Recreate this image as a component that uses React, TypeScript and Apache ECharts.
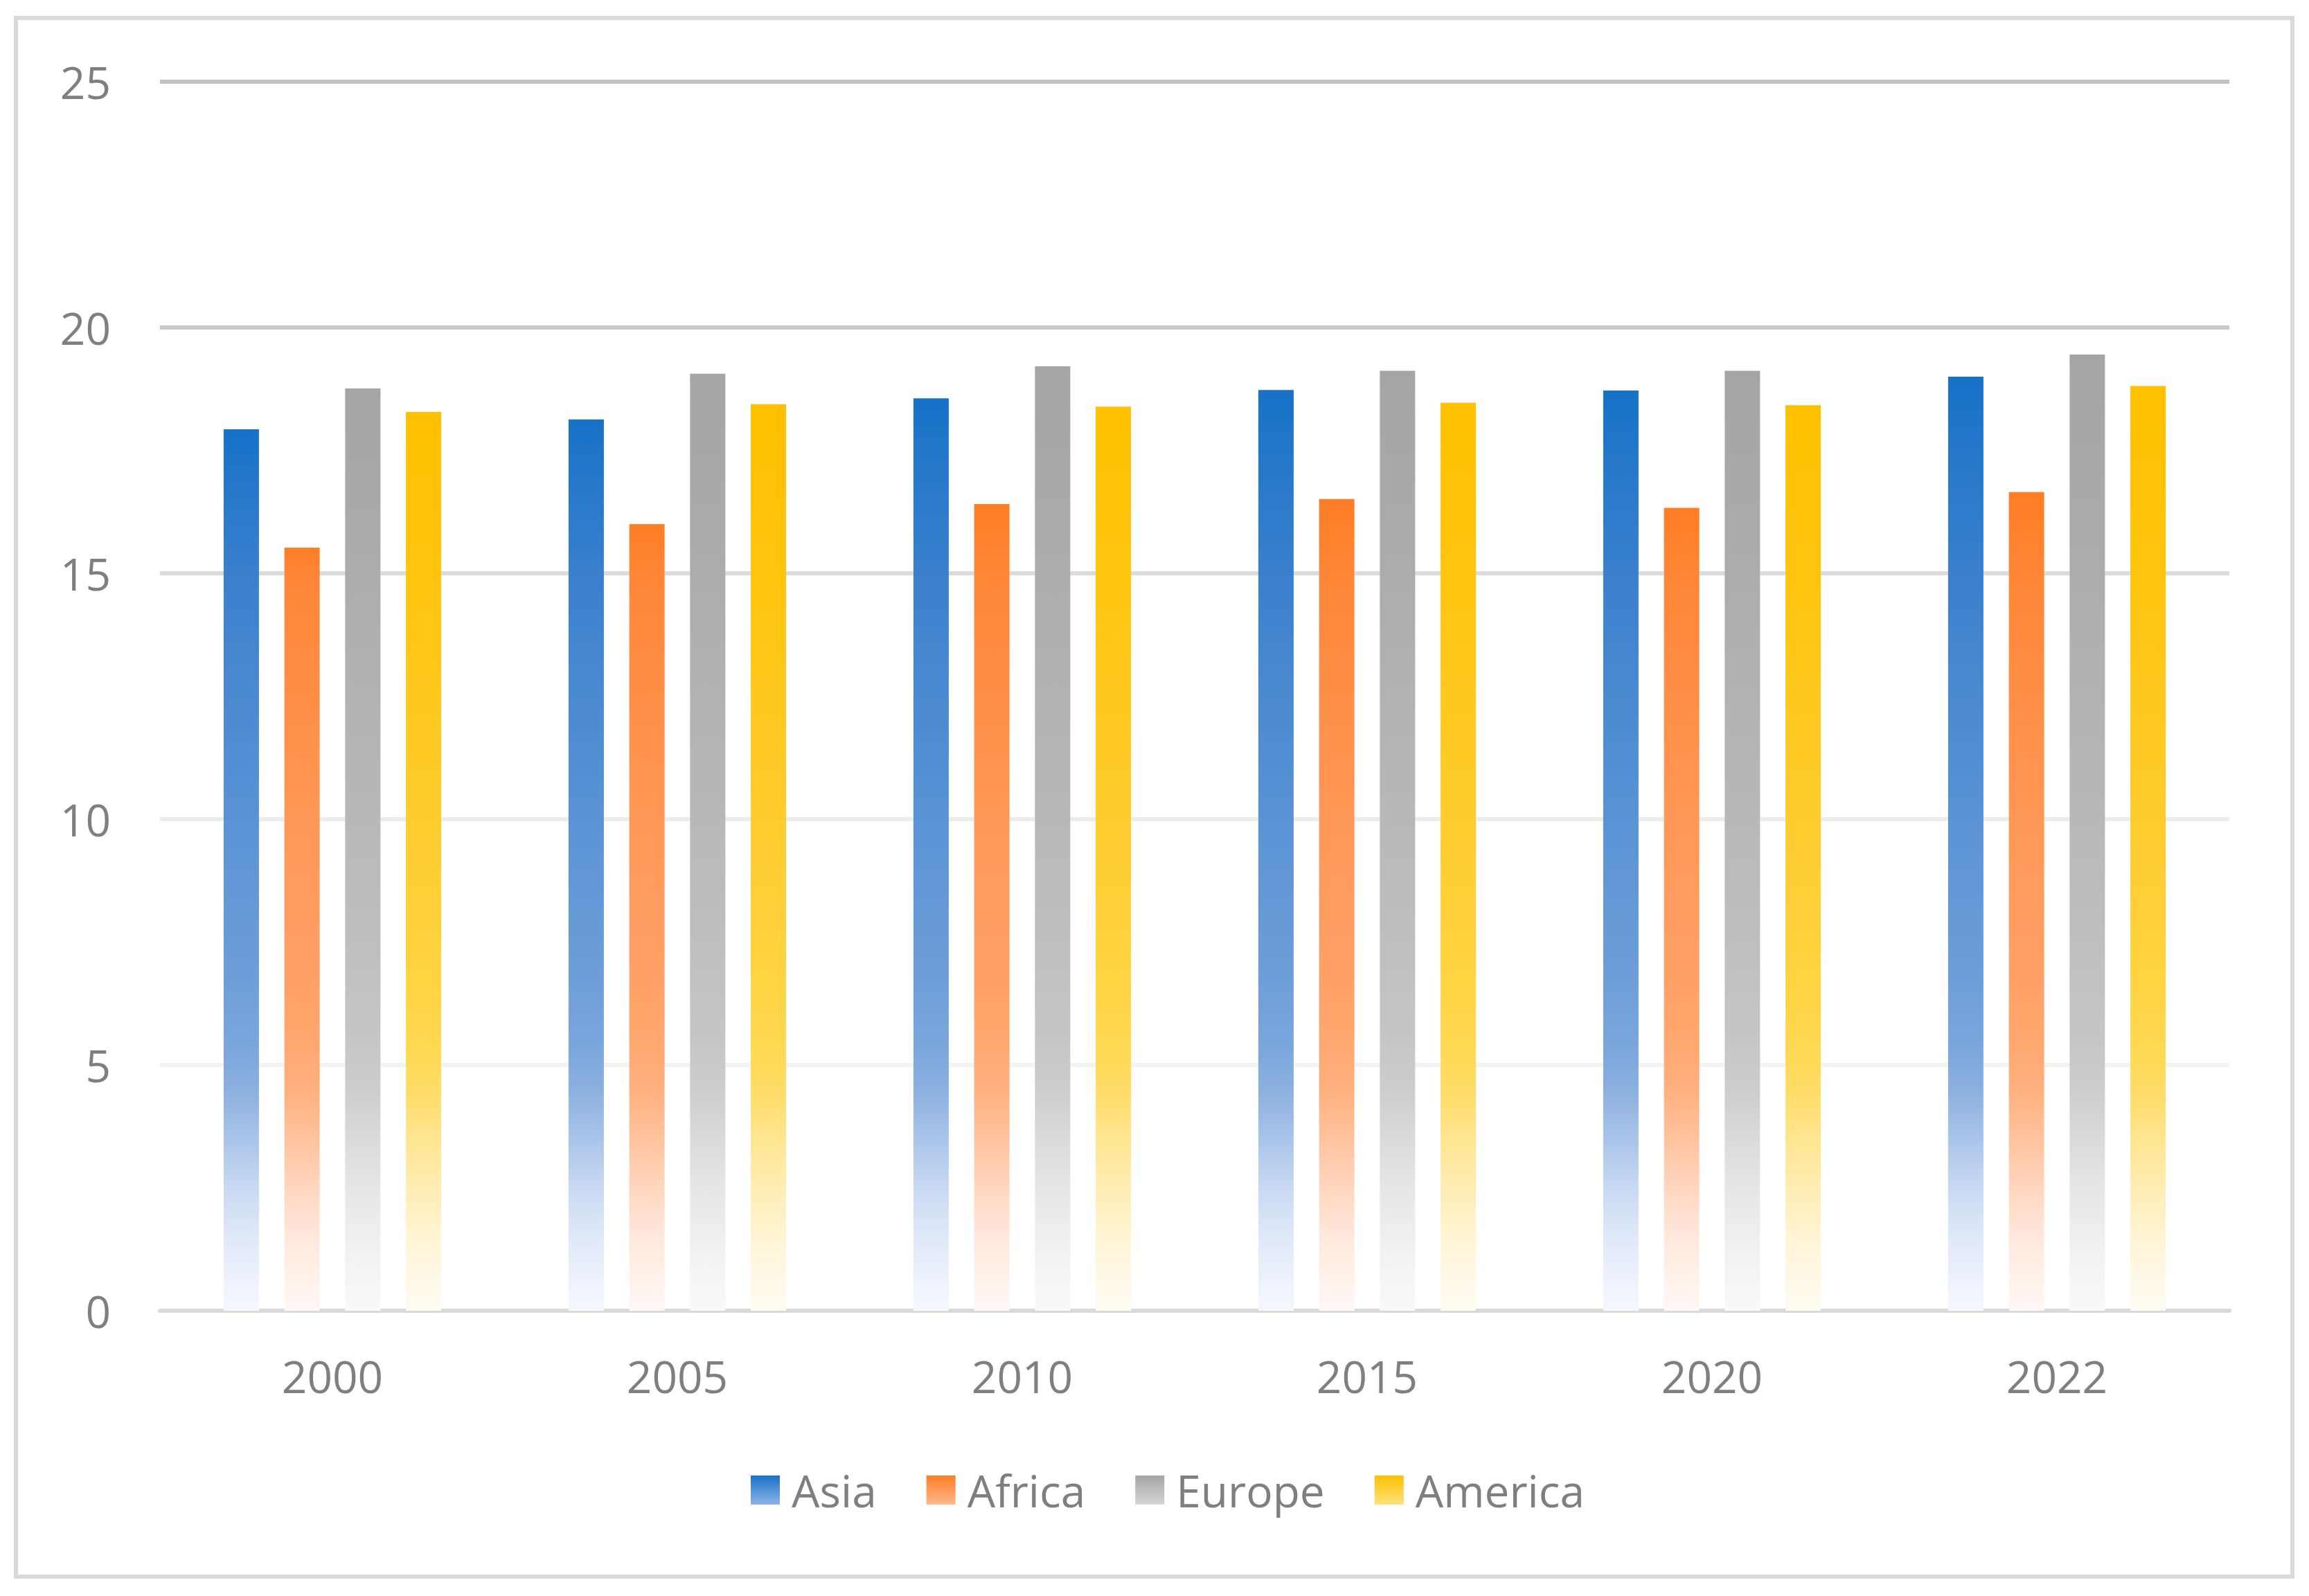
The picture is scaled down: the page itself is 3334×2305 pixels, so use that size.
import React, { useEffect, useRef } from "react";
import * as echarts from "echarts";

// ---- data ----
const years = ["2000", "2005", "2010", "2015", "2020", "2022"];
const asia = [17.93, 18.13, 18.56, 18.73, 18.72, 19.0];
const africa = [15.52, 16.0, 16.41, 16.51, 16.33, 16.65];
const europe = [18.76, 19.06, 19.21, 19.12, 19.12, 19.45];
const america = [18.28, 18.44, 18.39, 18.47, 18.42, 18.81];
const seriesNames = ["Asia", "Africa", "Europe", "America"];
const yMin = 0;
const yMax = 25;
const yStep = 5;

// ---- styles ----
const fadeLevels = [15, 10, 7, 5.5, 4.5, 3.5, 2.5, 1.5, 0.5, 0];
const palettes: Record<string, { top: string; fade: string[]; legendBottom: string }> = {
  Asia: {
    top: "#1772c8",
    fade: ["#3a80cd", "#5a93d5", "#6c9dd8", "#78a5dc", "#8bb0df", "#a9c4e9", "#c8d9f1", "#e0e9f8", "#eef3fc", "#f5f8fe"],
    legendBottom: "#8cb4e6",
  },
  Africa: {
    top: "#ff7d24",
    fade: ["#ff8636", "#ff9756", "#ffa066", "#ffa76f", "#ffb07e", "#ffc39e", "#ffd6bf", "#ffe8dc", "#fff3ed", "#fff8f4"],
    legendBottom: "#ffb98e",
  },
  Europe: {
    top: "#a5a5a5",
    fade: ["#acacac", "#b8b8b8", "#c0c0c0", "#c6c6c6", "#cdcdcd", "#dadada", "#e6e6e6", "#efefef", "#f6f6f6", "#f9f9f9"],
    legendBottom: "#d5d5d5",
  },
  America: {
    top: "#ffc000",
    fade: ["#ffc40d", "#ffcc2e", "#ffd23f", "#ffd84f", "#ffdc66", "#ffe58f", "#ffedb3", "#fff4d4", "#fff9ea", "#fffcf4"],
    legendBottom: "#ffe07a",
  },
};
const gridColors = ["#d9d9d9", "#f3f3f3", "#ececec", "#dcdcdc", "#c8c8c8", "#c3c3c3"];
const textColor = "#7f7f7f";
const font = "Open Sans";

function barGradient(name: string, value: number) {
  const p = palettes[name];
  const stops: { offset: number; color: string }[] = [{ offset: 0, color: p.top }];
  fadeLevels.forEach((lvl, i) => {
    if (lvl < value) stops.push({ offset: 1 - lvl / value, color: p.fade[i] });
  });
  return new echarts.graphic.LinearGradient(0, 0, 0, 1, stops);
}

export default function App() {
  const ref = useRef<HTMLDivElement>(null);
  useEffect(() => {
    document.body.style.margin = "0";
    if (!ref.current) return;
    const chart = echarts.init(ref.current, undefined, { renderer: "svg" });
    const values = [asia, africa, europe, america];
    const option = {
      animation: false,
      backgroundColor: "#ffffff",
      textStyle: { fontFamily: font },
      graphic: [
        {
          type: "rect",
          shape: { x: 23, y: 26, width: 3287, height: 2251 },
          style: { fill: "none", stroke: "#d9d9d9", lineWidth: 6 },
          silent: true,
        },
      ],
      grid: { left: 231, right: 115, top: 118, bottom: 412, containLabel: false },
      legend: {
        data: seriesNames,
        left: 1079,
        top: 2115,
        icon: "rect",
        itemWidth: 42,
        itemHeight: 42,
        itemGap: 72,
        textStyle: {
          fontFamily: font,
          fontSize: 64,
          color: textColor,
          lineHeight: 64,
          padding: [0, 0, 0, 12],
        },
      },
      xAxis: {
        type: "category",
        data: years,
        axisLine: { show: true, lineStyle: { color: "#d9d9d9", width: 6 } },
        axisTick: { show: false },
        splitLine: { show: false },
        axisLabel: {
          fontFamily: font,
          fontSize: 64,
          lineHeight: 64,
          color: textColor,
          margin: 62,
        },
      },
      yAxis: {
        type: "value",
        min: yMin,
        max: yMax,
        interval: yStep,
        axisLine: { show: false },
        axisTick: { show: false },
        splitLine: { show: true, lineStyle: { color: gridColors, width: 6 } },
        axisLabel: {
          fontFamily: font,
          fontSize: 64,
          color: textColor,
          margin: 71,
        },
      },
      series: seriesNames.map((name, si) => ({
        name,
        type: "bar",
        barWidth: 51,
        barGap: "72%",
        itemStyle: {
          color: new echarts.graphic.LinearGradient(0, 0, 0, 1, [
            { offset: 0, color: palettes[name].top },
            { offset: 1, color: palettes[name].legendBottom },
          ]),
        },
        emphasis: { disabled: true },
        data: values[si].map((v) => ({ value: v, itemStyle: { color: barGradient(name, v) } })),
      })),
    };
    chart.setOption(option);
    return () => chart.dispose();
  }, []);
  return <div ref={ref} style={{ width: 3334, height: 2305 }} />;
}
